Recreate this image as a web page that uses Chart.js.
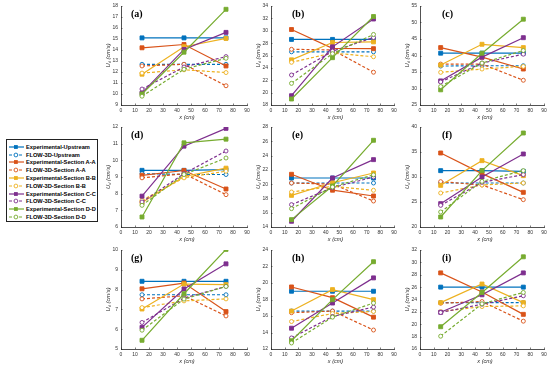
<!DOCTYPE html>
<html>
<head>
<meta charset="utf-8">
<script src="https://cdn.jsdelivr.net/npm/chart.js@4.4.1/dist/chart.umd.min.js"></script>
<style>
  body { margin: 0; width: 550px; height: 367px; background: #fff; position: relative; overflow: hidden; font-family: "Liberation Sans", Arial, sans-serif; }
  canvas { position: absolute; }
  #legend { position: absolute; left: 6px; top: 139px; width: 90px; height: 81px; border: 1px solid #222; background: #fff; }
  .row { position: absolute; left: 0; height: 8px; white-space: nowrap; }
  .row svg { position: absolute; left: 1px; top: 0; }
  .row span { position: absolute; left: 19px; top: 0; line-height: 8px; font-size: 5.7px; font-weight: bold; color: #000; }
</style>
</head>
<body>
<div id="legend"></div>
<script>
// x positions of the measuring sections (cm)
const xCm = [15, 45, 75];

const seriesNames = [
  "Experimental-Upstream", "FLOW-3D-Upstream",
  "Experimental-Section A-A", "FLOW-3D-Section A-A",
  "Experimental-Section B-B", "FLOW-3D-Section B-B",
  "Experimental-Section C-C", "FLOW-3D-Section C-C",
  "Experimental-Section D-D", "FLOW-3D-Section D-D"
];

const panelLabels = ["(a)", "(b)", "(c)", "(d)", "(e)", "(f)", "(g)", "(h)", "(i)"];
const yMin  = [9, 18, 25, 6, 14, 20, 5, 12, 16];
const yMax  = [18, 34, 55, 12, 28, 40, 10, 24, 32];
const yStep = [1, 2, 5, 1, 2, 5, 1, 2, 2];
const xTickMax = 90;
const xTickStep = 10;

// Ud values (cm/s), one row per series, in the order of seriesNames
const uA = [[15.1,15.1,15.1],[12.7,12.7,12.7],[14.2,14.5,12.55],[12.55,12.7,10.75],[11.8,14.3,15.05],
            [11.9,12.2,11.95],[10.1,14.05,15.6],[10.45,12.45,13.4],[10.0,13.8,17.7],[9.8,12.25,13.25]];
const uB = [[28.6,28.6,28.6],[26.6,26.6,26.6],[30.2,27.15,27.1],[27.0,26.9,23.3],[25.3,28.1,28.2],
            [24.9,26.4,25.8],[19.5,27.4,31.9],[22.85,26.7,28.9],[18.97,25.65,32.3],[21.5,26.3,29.4]];
const uC = [[40.7,40.7,40.7],[36.8,36.9,36.9],[42.4,39.5,35.9],[37.4,37.4,32.5],[37.1,43.4,42.4],
            [34.9,35.9,36.7],[32.3,39.5,45.4],[32.0,37.7,40.4],[29.6,40.7,51.0],[30.6,37.7,41.5]];
const uD = [[9.4,9.4,9.44],[9.2,9.15,9.15],[9.1,9.39,8.28],[8.95,9.2,7.94],[7.47,9.03,9.53],
            [7.6,8.95,9.35],[7.85,10.85,11.92],[7.5,9.2,10.56],[6.6,11.05,11.27],[7.3,9.15,10.14]];
const uE = [[20.86,20.86,20.86],[20.16,20.16,20.16],[21.38,19.15,18.34],[20.16,20.0,17.64],[18.43,20.2,21.56],
            [18.9,19.7,19.14],[14.8,20.86,23.43],[17.13,19.5,21.0],[15.03,19.74,26.14],[16.57,19.6,21.3]];
const uF = [[31.27,31.27,31.13],[28.8,28.8,28.8],[34.8,30.67,26.93],[29.07,28.4,25.47],[28.33,33.27,30.27],
            [26.8,28.4,28.8],[24.67,30.0,34.6],[24.33,28.93,30.47],[22.0,31.27,38.8],[23.0,29.13,31.27]];
const uG = [[8.42,8.42,8.42],[7.74,7.74,7.74],[8.04,8.33,6.89],[7.53,7.69,6.67],[7.02,8.28,8.25],
            [7.09,7.43,7.53],[6.09,8.03,9.3],[6.34,7.57,8.16],[5.44,7.79,10.03],[5.95,7.52,8.16]];
const uH = [[19.0,19.0,19.0],[16.6,16.6,16.6],[19.52,18.22,15.86],[16.4,16.6,14.3],[16.6,19.2,17.98],
            [15.33,16.3,16.55],[14.52,17.57,20.62],[13.34,15.94,17.08],[13.0,17.98,22.58],[12.73,15.86,17.57]];
const uI = [[26.0,26.0,26.0],[23.5,23.5,23.5],[28.3,25.2,21.6],[23.4,23.67,20.5],[23.5,26.5,23.5],
            [22.04,22.86,22.97],[21.93,24.76,28.3],[21.9,23.24,24.6],[19.6,25.14,30.9],[18.07,23.3,25.14]];
const panels = [uA, uB, uC, uD, uE, uF, uG, uH, uI];

// styling
const pairColors = ["#0072BD", "#D95319", "#EDB120", "#7E2F8E", "#77AC30"];
const axisColor = "#262626";
const colLeft = [121, 271, 420], colWidth = [126, 123, 124];
const rowTop = [6, 127, 250], rowHeight = [99, 100, 99];
const labelOffset = [10, 21, 22];
const PAD_L = 34, PAD_T = 6, PAD_R = 6, PAD_B = 20;

const decor = {
  id: "decor",
  afterDraw(chart) {
    const { ctx, chartArea: a, scales } = chart;
    const o = chart.options.plugins.decor;
    ctx.save();
    ctx.strokeStyle = axisColor;
    ctx.lineWidth = 0.6;
    ctx.beginPath();
    scales.x.ticks.forEach(t => {
      const px = Math.round(scales.x.getPixelForValue(t.value)) + 0.5;
      ctx.moveTo(px, a.bottom); ctx.lineTo(px, a.bottom - 1.5);
    });
    scales.y.ticks.forEach(t => {
      const py = Math.round(scales.y.getPixelForValue(t.value)) + 0.5;
      ctx.moveTo(a.left, py); ctx.lineTo(a.left + 1.5, py);
    });
    ctx.stroke();

    ctx.fillStyle = axisColor;
    ctx.textAlign = "center";
    ctx.textBaseline = "middle";
    ctx.font = 'italic 5.5px "Liberation Sans"';
    ctx.fillText("x (cm)", (a.left + a.right) / 2 + 3, a.bottom + 12);

    // y title with subscript
    ctx.save();
    ctx.translate(a.left - 13, (a.top + a.bottom) / 2);
    ctx.rotate(-Math.PI / 2);
    const f1 = 'italic 5.8px "Liberation Sans"', f2 = 'italic 4px "Liberation Sans"';
    ctx.font = f1; const w1 = ctx.measureText("U").width;
    ctx.font = f2; const w2 = ctx.measureText("d").width;
    ctx.font = f1; const w3 = ctx.measureText(" (cm/s)").width;
    let x0 = -(w1 + w2 + w3) / 2;
    ctx.textAlign = "left";
    ctx.font = f1; ctx.fillText("U", x0, 0);
    ctx.font = f2; ctx.fillText("d", x0 + w1, 2);
    ctx.font = f1; ctx.fillText(" (cm/s)", x0 + w1 + w2, 0);
    ctx.restore();

    ctx.textAlign = "left";
    ctx.fillStyle = "#000";
    ctx.font = 'bold 10px "Liberation Serif"';
    ctx.fillText(o.label, a.left + o.offset, a.top + 8);
    ctx.restore();
  }
};

panels.forEach((vals, p) => {
  const r = Math.floor(p / 3), c = p % 3;
  const cv = document.createElement("canvas");
  const w = colWidth[c] + PAD_L + PAD_R, h = rowHeight[r] + PAD_T + PAD_B;
  cv.width = w; cv.height = h;
  cv.style.left = (colLeft[c] - PAD_L) + "px";
  cv.style.top = (rowTop[r] - PAD_T) + "px";
  document.body.appendChild(cv);

  const datasets = vals.map((ys, i) => {
    const col = pairColors[Math.floor(i / 2)];
    const exp = i % 2 === 0;
    return {
      label: seriesNames[i],
      data: xCm.map((x, k) => ({ x: x, y: ys[k] })),
      borderColor: col,
      backgroundColor: exp ? col : "#fff",
      borderWidth: 1.2,
      borderDash: exp ? [] : [3, 2],
      pointStyle: exp ? "rect" : "circle",
      pointRadius: exp ? 2.8 : 2,
      pointBorderWidth: 0.9,
      pointBorderColor: col,
      pointBackgroundColor: exp ? col : "#fff",
      order: 10 - i
    };
  });

  new Chart(cv, {
    type: "line",
    data: { datasets },
    plugins: [decor],
    options: {
      responsive: false,
      animation: false,
      devicePixelRatio: 1,
      layout: { padding: { top: PAD_T, right: PAD_R, left: 0, bottom: 0 } },
      plugins: {
        legend: { display: false },
        tooltip: { enabled: false },
        decor: { label: panelLabels[p], offset: labelOffset[c] }
      },
      scales: {
        x: {
          type: "linear", min: 0, max: xTickMax,
          ticks: { stepSize: xTickStep, padding: 2.5, color: "#333", font: { size: 5, family: "Liberation Sans" }, maxRotation: 0, autoSkip: false },
          grid: { display: false, drawTicks: false },
          border: { color: axisColor, width: 0.8 },
          afterFit: s => { s.height = PAD_B; }
        },
        y: {
          type: "linear", min: yMin[p], max: yMax[p],
          ticks: { stepSize: yStep[p], padding: 3, color: "#333", font: { size: 5, family: "Liberation Sans" }, autoSkip: false },
          grid: { display: false, drawTicks: false },
          border: { color: axisColor, width: 0.8 },
          afterFit: s => { s.width = PAD_L; }
        }
      }
    }
  });
});

// legend
const legend = document.getElementById("legend");
seriesNames.forEach((name, i) => {
  const col = pairColors[Math.floor(i / 2)];
  const exp = i % 2 === 0;
  const row = document.createElement("div");
  row.className = "row";
  row.style.top = (2.7 + i * 7.8) + "px";
  const marker = exp
    ? `<rect x="6" y="2.1" width="3.8" height="3.8" fill="${col}"/>`
    : `<circle cx="7.9" cy="4" r="1.9" fill="#fff" stroke="${col}" stroke-width="0.9"/>`;
  row.innerHTML = `<svg width="17" height="8"><line x1="1" y1="4" x2="16" y2="4" stroke="${col}" stroke-width="1.2" ${exp ? "" : 'stroke-dasharray="3,2"'}/>${marker}</svg><span>${name}</span>`;
  legend.appendChild(row);
});
</script>
</body>
</html>
